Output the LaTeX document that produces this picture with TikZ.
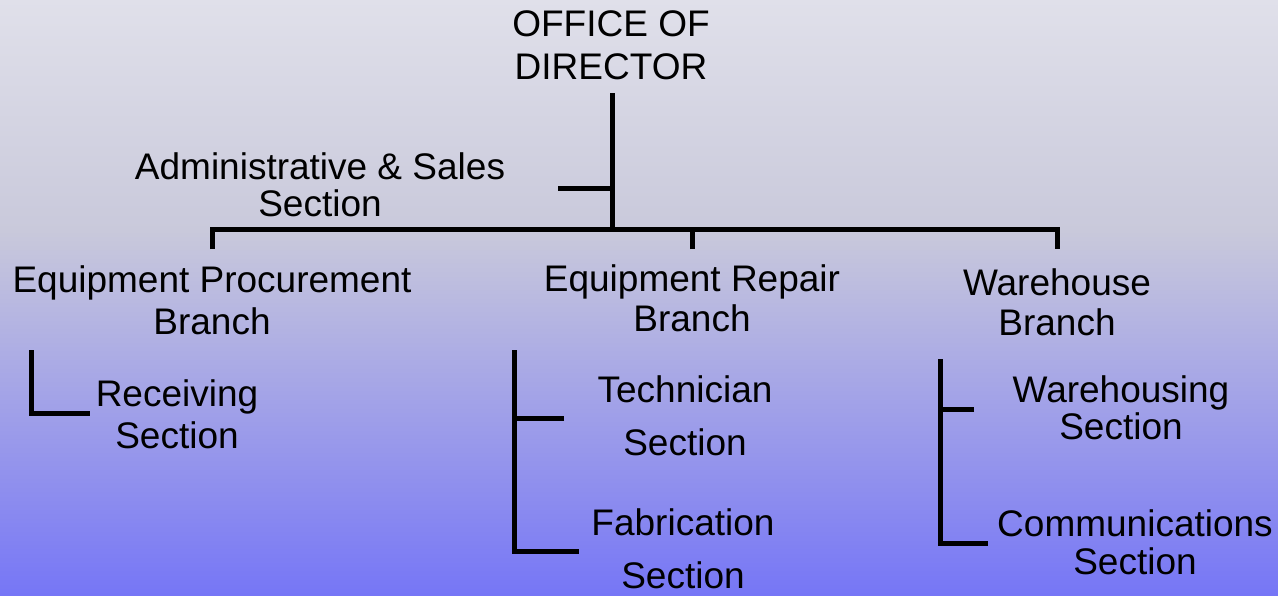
\documentclass[tikz,border=0pt]{standalone}
\usepackage{fontspec}
\setmainfont{Liberation Sans}
\definecolor{bgtop}{RGB}{224,224,234}
\definecolor{bgmid}{RGB}{201,201,219}
\definecolor{bgbottom}{RGB}{118,118,246}
\tikzset{
  unit/.style={align=center,inner sep=0pt,font=\fontsize{37}{#1}\selectfont},
  unit/.default=42,
  link/.style={line width=5pt}
}

\begin{document}
\begin{tikzpicture}[x=1pt,y=-1pt]
    \shade [top color=bgtop,bottom color=bgmid] (0,0) rectangle (1278,231);
    \shade [top color=bgmid,bottom color=bgbottom] (0,230) rectangle (1278,595);
    \useasboundingbox (0,0) rectangle (1278,595);
    \node [unit=43] (director) at (611,45) {OFFICE OF\\DIRECTOR};
    \node [unit=37] (admin) at (320,185) {Administrative \& Sales\\Section};
    \node [unit] (procure) at (212,300) {Equipment Procurement\\Branch};
    \node [unit=40] (repair) at (692,298) {Equipment Repair\\Branch};
    \node [unit=40] (warehouse) at (1057,302) {Warehouse\\Branch};
    \node [unit] (receiving) at (177,414) {Receiving\\Section};
    \node [unit=53] (technician) at (685,416) {Technician\\Section};
    \node [unit=53] (fabrication) at (683,549) {Fabrication\\Section};
    \node [unit=37] (warehousing) at (1121,408) {Warehousing\\Section};
    \node [unit=38] (communications) at (1135,542) {Communications\\Section};
    \coordinate (dirtop) at (612,93);
    \coordinate (dirfoot) at (612,229);
    \coordinate (admintick) at (558,188);
    \coordinate (procdrop) at (212,249);
    \coordinate (repdrop) at (692,249);
    \coordinate (waredrop) at (1057,249);
    \coordinate (rectop) at (31,350);
    \coordinate (recfoot) at (90,413);
    \coordinate (reptop) at (514,350);
    \coordinate (techtick) at (564,418);
    \coordinate (fabfoot) at (579,551);
    \coordinate (waretop) at (940,359);
    \coordinate (wsgtick) at (974,409);
    \coordinate (comfoot) at (988,543);
    \draw [link] (dirtop) -- (dirfoot);
    \draw [link] (admintick) -- (admintick -| dirtop);
    \draw [link] (procdrop) |- (dirfoot) -| (waredrop);
    \draw [link] (repdrop) -- (repdrop |- dirfoot);
    \draw [link] (rectop) |- (recfoot);
    \draw [link] (reptop) |- (fabfoot);
    \draw [link] (techtick) -- (techtick -| reptop);
    \draw [link] (waretop) |- (comfoot);
    \draw [link] (wsgtick) -- (wsgtick -| waretop);
\end{tikzpicture}
\end{document}
